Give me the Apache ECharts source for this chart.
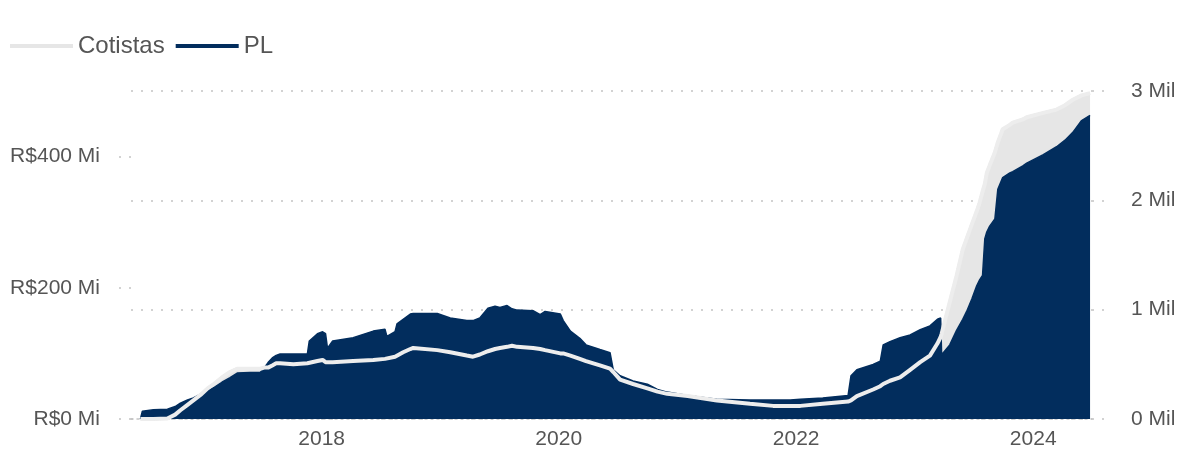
<!DOCTYPE html>
<html>
<head>
<meta charset="utf-8">
<script src="https://cdn.jsdelivr.net/npm/echarts@6/dist/echarts.min.js"></script>
<style>
html,body{margin:0;padding:0;background:#fff;}
#chart{width:1180px;height:450px;}
</style>
</head>
<body>
<div id="chart"></div>
<script>
var dates = [
'2016-06-22','2016-06-28','2016-08-01','2016-09-13','2016-10-07','2016-10-23','2016-11-14','2016-12-02','2016-12-24',
'2017-01-15','2017-02-03','2017-02-28','2017-03-25','2017-04-16','2017-05-26','2017-06-26','2017-07-08','2017-07-20',
'2017-08-02','2017-08-14','2017-08-26','2017-10-06','2017-11-18','2017-11-24','2017-12-19',
'2018-01-04','2018-01-13','2018-01-19','2018-02-04','2018-04-08','2018-06-09','2018-07-15','2018-07-21','2018-08-15',
'2018-08-21','2018-09-09','2018-10-01','2018-10-10','2018-12-23',
'2019-02-01','2019-03-24','2019-04-12','2019-05-03','2019-05-28','2019-06-19','2019-07-04','2019-07-26','2019-08-10',
'2019-08-26','2019-10-14','2019-11-05','2019-11-20',
'2020-01-06','2020-01-15','2020-02-06','2020-03-06','2020-03-25','2020-05-07','2020-06-07','2020-06-17','2020-07-08',
'2020-08-17','2020-09-30','2020-10-31','2020-11-30',
'2021-02-01','2021-05-02','2021-08-12','2021-10-22','2021-12-14',
'2022-01-14','2022-03-24','2022-06-10','2022-06-19','2022-07-07','2022-08-26','2022-09-17','2022-09-26','2022-10-17',
'2022-11-17','2022-12-18',
'2023-01-18','2023-02-17','2023-03-12','2023-03-22','2023-03-25','2023-04-19','2023-05-10','2023-05-29','2023-06-10',
'2023-06-26','2023-07-11','2023-07-20','2023-07-29','2023-08-05','2023-08-11','2023-08-20','2023-09-05','2023-09-14',
'2023-09-29','2023-10-21','2023-10-30','2023-11-30','2023-12-12',
'2024-02-01','2024-03-13','2024-04-08','2024-05-02','2024-05-29','2024-06-24'
];
// PL in R$ millions
var plValues = [
0,12,14,15,19,24,29,32,38,
43,48,56,63,70,71,71,78,86,
93,97,99,99,99,119,130,
133,130,108,119,124,134,137,126,133,
145,152,160,161,161,
154,150,150,154,169,172,170,173,168,
166,165,159,164,
160,150,134,123,113,106,101,75,66,
58,53,45,41,
36,30,29,29,29,
30,32,36,66,75,83,88,113,118,
124,128,
136,142,152,154,98,113,135,152,164,
183,203,212,219,275,285,294,305,350,
368,375,377,386,390,
403,415,425,437,455,463
];
// Cotistas (number of holders)
var cotistasValues = [
0,0,0,5,40,80,130,170,220,
280,320,380,430,460,460,460,470,470,
490,510,510,500,510,520,530,
540,520,520,520,530,540,550,550,570,
580,610,640,650,630,
610,580,570,590,620,640,650,660,670,
660,650,640,630,
600,600,580,550,530,490,460,430,360,
320,280,250,230,
210,170,140,120,120,
120,140,160,170,210,270,300,320,350,
380,450,
520,580,690,750,780,1070,1310,1550,1650,
1780,1900,1980,2080,2150,2250,2320,2440,2530,
2650,2690,2710,2740,2760,
2800,2830,2870,2920,2960,2980
];
var leftTicks = [0, 200, 400];
var rightTicks = [0, 1000, 2000, 3000];
var xLabelYears = [2018, 2020, 2022, 2024];

var NAVY = '#022d5d';
var GRAY = '#e6e6e6';
var LINEGRAY = '#ededed';
var TXT = '#555555';
var FONT = '"Liberation Sans", Arial, sans-serif';

var plData = dates.map(function (d, i) { return [d, plValues[i]]; });
var cotData = dates.map(function (d, i) { return [d, cotistasValues[i]]; });

var chart = echarts.init(document.getElementById('chart'), null, {renderer: 'canvas'});
chart.setOption({
  animation: false,
  textStyle: {fontFamily: FONT},
  legend: {
    left: 5, top: 29,
    icon: 'rect', itemWidth: 63, itemHeight: 4, itemGap: 11,
    textStyle: {color: TXT, fontSize: 24, fontFamily: FONT},
    data: [
      {name: 'Cotistas', itemStyle: {color: GRAY}},
      {name: 'PL', itemStyle: {color: NAVY}}
    ]
  },
  grid: {left: 131, right: 88, top: 91, bottom: 29, containLabel: false},
  xAxis: {
    type: 'time',
    min: '2016-05-24', max: '2024-06-30',
    splitLine: {show: false},
    axisTick: {show: false},
    axisLine: {show: true, lineStyle: {color: '#c4c4c4', width: 1.5, type: [2, 4]}},
    axisLabel: {
      color: TXT, fontSize: 21, margin: 10, fontFamily: FONT,
      showMinLabel: false, showMaxLabel: false,
      formatter: function (v) {
        var d = new Date(v);
        var y = d.getFullYear();
        if (d.getMonth() === 0 && d.getDate() === 1 && xLabelYears.indexOf(y) >= 0) return String(y);
        return '';
      }
    }
  },
  yAxis: [
    {
      type: 'value', position: 'left', min: 0, max: 500, interval: 200,
      axisLine: {show: false},
      axisTick: {show: true, length: 12, lineStyle: {color: '#c4c4c4', width: 1.5, type: [2, 8]}},
      splitLine: {show: false},
      axisLabel: {
        color: TXT, fontSize: 21, margin: 31, fontFamily: FONT, showMaxLabel: false,
        formatter: function (v) { return leftTicks.indexOf(v) >= 0 ? 'R$' + v + ' Mi' : ''; }
      }
    },
    {
      type: 'value', position: 'right', min: 0, max: 3000, interval: 1000,
      axisLine: {show: false},
      axisTick: {show: true, length: 20, lineStyle: {color: '#c4c4c4', width: 1.5, type: [2, 8]}},
      splitLine: {show: true, lineStyle: {color: '#c4c4c4', width: 1.5, type: [2, 8]}},
      axisLabel: {
        color: TXT, fontSize: 21, margin: 39, fontFamily: FONT,
        formatter: function (v) { return rightTicks.indexOf(v) >= 0 ? (v / 1000) + ' Mil' : ''; }
      }
    }
  ],
  series: [
    {
      name: 'Cotistas', type: 'line', yAxisIndex: 1, data: cotData,
      symbol: 'none', showSymbol: false, z: 1,
      lineStyle: {color: GRAY, width: 3},
      itemStyle: {color: GRAY},
      areaStyle: {color: GRAY, opacity: 1}
    },
    {
      name: 'PL', type: 'line', yAxisIndex: 0, data: plData,
      symbol: 'none', showSymbol: false, z: 2,
      lineStyle: {color: NAVY, width: 1.5},
      itemStyle: {color: NAVY},
      areaStyle: {color: NAVY, opacity: 1}
    },
    {
      name: 'Cotistas', type: 'line', yAxisIndex: 1, data: cotData,
      symbol: 'none', showSymbol: false, z: 3,
      lineStyle: {color: LINEGRAY, width: 4},
      itemStyle: {color: GRAY}
    }
  ]
});
</script>
</body>
</html>
